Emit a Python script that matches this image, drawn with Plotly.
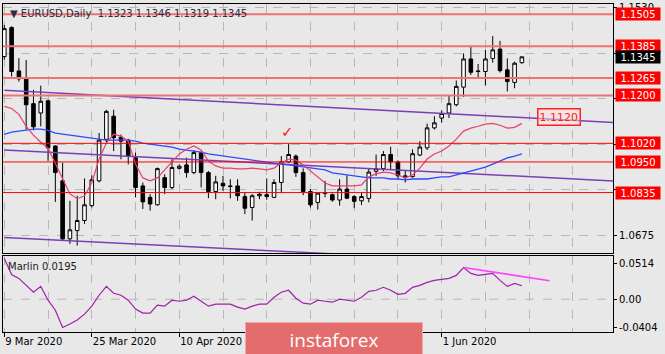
import plotly.graph_objects as go

bar_index = list(range(72))
opens = [1.1346, 1.1455, 1.1292, 1.1265, 1.1169, 1.1134, 1.1180, 1.1010, 1.0879, 1.0661,
         1.0692, 1.0730, 1.0786, 1.0879, 1.1035, 1.1122, 1.1043, 1.1032, 1.0966, 1.0860,
         1.0817, 1.0789, 1.0891, 1.0854, 1.0926, 1.0939, 1.0910, 1.0985, 1.0910, 1.0839,
         1.0870, 1.0860, 1.0860, 1.0820, 1.0779, 1.0823, 1.0827, 1.0817, 1.0873, 1.0950,
         1.0972, 1.0910, 1.0839, 1.0798, 1.0835, 1.0827, 1.0807, 1.0848, 1.0820, 1.0804,
         1.0813, 1.0915, 1.0925, 1.0978, 1.0950, 1.0891, 1.0895, 1.0976, 1.1003, 1.1078,
         1.1115, 1.1134, 1.1165, 1.1231, 1.1337, 1.1292, 1.1290, 1.1339, 1.1374, 1.1296,
         1.1249, 1.1323]
highs = [1.1465, 1.1460, 1.1340, 1.1333, 1.1221, 1.1237, 1.1184, 1.1012, 1.0947, 1.0804,
         1.0823, 1.0888, 1.0900, 1.1059, 1.1146, 1.1146, 1.1053, 1.1037, 1.0985, 1.0873,
         1.0829, 1.0929, 1.0904, 1.0960, 1.0941, 1.0966, 1.0995, 1.0988, 1.0916, 1.0898,
         1.0898, 1.0885, 1.0885, 1.0835, 1.0829, 1.0838, 1.0888, 1.0885, 1.0972, 1.1018,
         1.0978, 1.0926, 1.0848, 1.0835, 1.0879, 1.0832, 1.0885, 1.0900, 1.0825, 1.0833,
         1.0925, 1.0978, 1.0991, 1.1007, 1.0956, 1.0916, 1.0997, 1.1028, 1.1094, 1.1122,
         1.1144, 1.1199, 1.1256, 1.1358, 1.1383, 1.1318, 1.1371, 1.1423, 1.1405, 1.1339,
         1.1327, 1.1346]
lows = [1.1335, 1.1271, 1.1252, 1.1072, 1.1069, 1.1084, 1.0954, 1.0800, 1.0655, 1.0642,
        1.0636, 1.0717, 1.0779, 1.0873, 1.1022, 1.0991, 1.0960, 1.0941, 1.0817, 1.0773,
        1.0767, 1.0786, 1.0829, 1.0848, 1.0922, 1.0891, 1.0904, 1.0854, 1.0814, 1.0810,
        1.0842, 1.0813, 1.0804, 1.0754, 1.0730, 1.0810, 1.0808, 1.0814, 1.0833, 1.0947,
        1.0894, 1.0825, 1.0779, 1.0771, 1.0817, 1.0801, 1.0786, 1.0810, 1.0776, 1.0788,
        1.0798, 1.0898, 1.0916, 1.0922, 1.0885, 1.0873, 1.0891, 1.0972, 1.0995, 1.1072,
        1.1097, 1.1115, 1.1159, 1.1194, 1.1277, 1.1265, 1.1237, 1.1323, 1.1286, 1.1215,
        1.1227, 1.1319]
closes = [1.1451, 1.1290, 1.1262, 1.1165, 1.1082, 1.1178, 1.1003, 1.0910, 1.0661, 1.0695,
          1.0730, 1.0789, 1.0883, 1.1032, 1.1140, 1.1041, 1.1028, 1.0972, 1.0854, 1.0800,
          1.0792, 1.0925, 1.0854, 1.0929, 1.0934, 1.0910, 1.0985, 1.0910, 1.0839, 1.0875,
          1.0860, 1.0858, 1.0823, 1.0776, 1.0823, 1.0829, 1.0820, 1.0873, 1.0950, 1.0978,
          1.0910, 1.0839, 1.0789, 1.0833, 1.0832, 1.0807, 1.0848, 1.0814, 1.0802, 1.0820,
          1.0912, 1.0925, 1.0978, 1.0950, 1.0898, 1.0898, 1.0981, 1.1006, 1.1078, 1.1097,
          1.1132, 1.1169, 1.1234, 1.1337, 1.1287, 1.1290, 1.1337, 1.1371, 1.1293, 1.1252,
          1.1321, 1.1345]
ma_red = [1.1159, 1.1151, 1.1129, 1.1084, 1.1051, 1.1024, 1.1002, 1.0946, 1.0890, 1.0830,
          1.0812, 1.0823, 1.0871, 1.0961, 1.1021, 1.1054, 1.1047, 1.1028, 1.0942, 1.0890,
          1.0879, 1.0890, 1.0920, 1.0950, 1.0980, 1.0998, 1.1010, 1.0995, 1.0953, 1.0935,
          1.0927, 1.0927, 1.0924, 1.0924, 1.0927, 1.0924, 1.0920, 1.0927, 1.0946, 1.0961,
          1.0957, 1.0939, 1.0916, 1.0894, 1.0871, 1.0860, 1.0860, 1.0860, 1.0860, 1.0864,
          1.0894, 1.0905, 1.0912, 1.0909, 1.0901, 1.0890, 1.0901, 1.0927, 1.0961, 1.0980,
          1.0991, 1.1010, 1.1036, 1.1066, 1.1077, 1.1084, 1.1092, 1.1095, 1.1088, 1.1077,
          1.1080, 1.1095]
ma_blue = [1.1054, 1.1062, 1.1066, 1.1069, 1.1073, 1.1073, 1.1069, 1.1058, 1.1054, 1.1051,
           1.1047, 1.1043, 1.1039, 1.1036, 1.1032, 1.1032, 1.1032, 1.1032, 1.1028, 1.1021,
           1.1017, 1.1013, 1.1010, 1.1006, 1.0998, 1.0995, 1.0991, 1.0987, 1.0980, 1.0976,
           1.0972, 1.0968, 1.0965, 1.0961, 1.0957, 1.0953, 1.0950, 1.0946, 1.0942, 1.0939,
           1.0935, 1.0931, 1.0927, 1.0924, 1.0920, 1.0909, 1.0905, 1.0901, 1.0897, 1.0894,
           1.0890, 1.0890, 1.0890, 1.0886, 1.0886, 1.0883, 1.0886, 1.0886, 1.0886, 1.0890,
           1.0894, 1.0894, 1.0901, 1.0909, 1.0916, 1.0924, 1.0931, 1.0942, 1.0953, 1.0965,
           1.0972, 1.0980]
marlin = [0.0591, 0.0360, 0.0303, 0.0202, 0.0101, 0.0187, -0.0014, -0.0159, -0.0410, -0.0360,
          -0.0303, -0.0216, -0.0101, 0.0058, 0.0187, 0.0086, 0.0058, -0.0014, -0.0144, -0.0202,
          -0.0202, -0.0086, -0.0101, -0.0014, -0.0029, -0.0014, 0.0043, -0.0029, -0.0101, -0.0072,
          -0.0072, -0.0072, -0.0115, -0.0144, -0.0101, -0.0072, -0.0072, 0.0029, 0.0101, 0.0130,
          0.0014, -0.0058, -0.0072, -0.0014, -0.0029, -0.0043, 0.0000, -0.0014, -0.0029, 0.0029,
          0.0115, 0.0130, 0.0173, 0.0130, 0.0072, 0.0086, 0.0173, 0.0202, 0.0245, 0.0274,
          0.0288, 0.0303, 0.0346, 0.0461, 0.0375, 0.0346, 0.0360, 0.0375, 0.0274, 0.0187,
          0.0231, 0.0195]

levels_upper = [1.1505, 1.1385, 1.1265, 1.1200]
levels_lower = [1.1020, 1.0950, 1.0835]
level_texts_upper = ["1.1505", "1.1385", "1.1265", "1.1200"]
level_texts_lower = ["1.1020", "1.0950", "1.0835"]
current_price = 1.1345
# grid prices; labels hidden behind the level boxes are left blank
price_grid = [1.0675, 1.0846, 1.1017, 1.1188, 1.1359, 1.1530]
price_grid_text = ["1.0675", "", "", "", "", "1.1530"]
date_ticks = [0, 12, 24, 36, 48, 60]
# labels at 36 / 48 sit behind the watermark in the reference
date_labels = ["9 Mar 2020", "25 Mar 2020", "10 Apr 2020", "", "", "1 Jun 2020"]
marlin_ticks = [0.0514, 0.0, -0.0404]
marlin_tick_text = ["0.0514", "0.00", "-0.0404"]

trend_upper_x, trend_upper_y = [0, 84], [1.1219, 1.1098]
trend_mid_x, trend_mid_y = [0, 84], [1.0995, 1.0878]
trend_low_x, trend_low_y = [0, 45], [1.0666, 1.0605]
marlin_trend_x, marlin_trend_y = [63, 74.8], [0.0461, 0.0269]
label_1120 = (76.1, 1.1120, "1.1120")
check_mark = (38.8, 1.1062)

title_text = "EURUSD,Daily  1.1323 1.1346 1.1319 1.1345"
marlin_text = "Marlin 0.0195"

FONT = "DejaVu Sans"
BG = "#e8e8e8"
GRID = "#b8b8b8"

fig = go.Figure()

fig.add_trace(go.Scatter(x=trend_upper_x, y=trend_upper_y, mode="lines",
                         line=dict(color="#7a3fb8", width=1.5), xaxis="x", yaxis="y"))
fig.add_trace(go.Scatter(x=trend_mid_x, y=trend_mid_y, mode="lines",
                         line=dict(color="#7a3fb8", width=1.5), xaxis="x", yaxis="y"))
fig.add_trace(go.Scatter(x=trend_low_x, y=trend_low_y, mode="lines",
                         line=dict(color="#7a3fb8", width=1.5), xaxis="x", yaxis="y"))
fig.add_trace(go.Scatter(x=bar_index, y=ma_blue, mode="lines",
                         line=dict(color="#3048ff", width=1.3), xaxis="x", yaxis="y"))
fig.add_trace(go.Scatter(x=bar_index, y=ma_red, mode="lines",
                         line=dict(color="#e8406a", width=1.2), xaxis="x", yaxis="y"))

fig.add_trace(go.Candlestick(
    x=bar_index, open=opens, high=highs, low=lows, close=closes,
    increasing=dict(line=dict(color="black", width=1), fillcolor="white"),
    decreasing=dict(line=dict(color="black", width=1), fillcolor="black"),
    whiskerwidth=0, xaxis="x", yaxis="y"))

fig.add_trace(go.Scatter(x=bar_index, y=marlin, mode="lines",
                         line=dict(color="#a020a8", width=1.2), xaxis="x2", yaxis="y2"))
fig.add_trace(go.Scatter(x=marlin_trend_x, y=marlin_trend_y, mode="lines",
                         line=dict(color="#ff40ff", width=1.6), xaxis="x2", yaxis="y2"))

for lv in levels_upper:
    fig.add_hline(y=lv, line=dict(color="#f07272", width=2), yref="y")
for lv in levels_lower:
    fig.add_hline(y=lv, line=dict(color="#ff0000", width=1), yref="y")

ann = []
for lv, tx in zip(levels_upper + levels_lower, level_texts_upper + level_texts_lower):
    ann.append(dict(xref="paper", yref="y", x=1.0033, y=lv, xanchor="left", yanchor="middle",
                    text=tx, showarrow=False, bgcolor="#ff0000",
                    font=dict(family=FONT, size=10, color="white"),
                    width=44, height=12, borderpad=0))
ann.append(dict(xref="paper", yref="y", x=1.0033, y=current_price, xanchor="left", yanchor="middle",
                text=f"{current_price:.4f}", showarrow=False, bgcolor="#000000",
                font=dict(family=FONT, size=10, color="white"),
                width=44, height=12, borderpad=0))
ann.append(dict(xref="x", yref="y", x=label_1120[0], y=label_1120[1], text=label_1120[2],
                showarrow=False, bgcolor="rgba(255,225,225,0.5)", bordercolor="#ff2020",
                borderwidth=1.5, borderpad=1, font=dict(family=FONT, size=11, color="#ff2020")))
ann.append(dict(xref="x", yref="y", x=check_mark[0], y=check_mark[1], text="✓",
                showarrow=False, font=dict(family=FONT, size=15, color="#ff2020")))
ann.append(dict(xref="paper", yref="paper", x=0.0, y=1.0, xanchor="left", yanchor="top",
                xshift=5, yshift=-2,
                text="▼ " + title_text, showarrow=False,
                font=dict(family=FONT, size=10, color="#2a2a40")))
ann.append(dict(xref="paper", yref="paper", x=0.0, y=0.233, xanchor="left", yanchor="top",
                xshift=3, yshift=-3,
                text=marlin_text, showarrow=False,
                font=dict(family=FONT, size=10, color="#202020")))
ann.append(dict(xref="paper", yref="paper", x=(244 - 2) / 611, y=-(322 - 332) / 330,
                xanchor="left", yanchor="top", text="instaforex", showarrow=False,
                bgcolor="#e36c6c", bordercolor="#f0a8a8", borderwidth=1, borderpad=0,
                width=176, height=34,
                font=dict(family="Open Sans", size=19, color="white")))

axis_common = dict(showline=True, linecolor="black", linewidth=1, mirror=True, zeroline=False)

fig.update_layout(
    width=665, height=354,
    margin=dict(l=2, r=52, t=2, b=22),
    paper_bgcolor=BG, plot_bgcolor=BG,
    showlegend=False,
    annotations=ann,
    xaxis=dict(domain=[0, 1], anchor="y", range=[-0.18, 83.5], matches="x2",
               showticklabels=False, ticks="",
               tickvals=date_ticks, showgrid=True, gridcolor=GRID, griddash="dash", gridwidth=1,
               minor=dict(dtick=6, tick0=0, showgrid=True, gridcolor=GRID, griddash="dash", ticks=""),
               rangeslider=dict(visible=False), **axis_common),
    yaxis=dict(domain=[0.241, 1], anchor="x", side="right", range=[1.06081, 1.15435],
               tickvals=price_grid, ticktext=price_grid_text, ticks="outside", ticklen=3,
               tickcolor="black", showgrid=True, gridcolor=GRID, griddash="dash",
               tickfont=dict(family=FONT, size=10, color="black"), **axis_common),
    xaxis2=dict(domain=[0, 1], anchor="y2", range=[-0.18, 83.5],
                tickvals=date_ticks, ticktext=date_labels, ticks="outside", ticklen=4,
                tickcolor="black", ticklabelposition="outside right",
                showgrid=True, gridcolor=GRID, griddash="dash",
                minor=dict(dtick=6, tick0=0, showgrid=True, gridcolor=GRID, griddash="dash", ticks=""),
                tickfont=dict(family=FONT, size=10, color="black"), **axis_common),
    yaxis2=dict(domain=[0, 0.233], anchor="x2", side="right", range=[-0.0476, 0.0634],
                tickvals=marlin_ticks, ticktext=marlin_tick_text, ticks="outside", ticklen=3,
                tickcolor="black", showgrid=False,
                tickfont=dict(family=FONT, size=10, color="black"), **axis_common),
)

fig.add_hline(y=0, line=dict(color=GRID, width=1, dash="dash"), yref="y2", layer="below")

fig.write_html("out.html")
